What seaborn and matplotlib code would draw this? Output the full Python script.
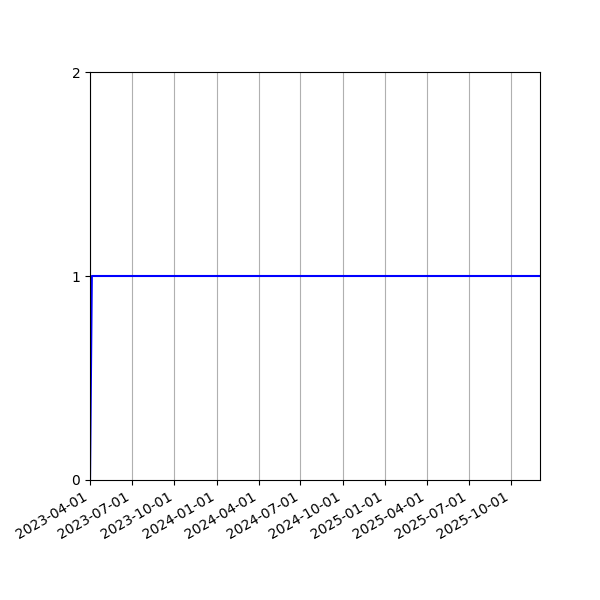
import pandas as pd
import matplotlib
matplotlib.use("Agg")
import matplotlib.pyplot as plt
import matplotlib.dates as mdates
import seaborn as sns

# datos
fechas = ["2023-04-01", "2023-04-05", "2025-12-03"]
valores = [0, 1, 1]

df = pd.DataFrame({"fecha": pd.to_datetime(fechas), "valor": valores})

fig, ax = plt.subplots(figsize=(6, 6), dpi=100)
sns.lineplot(data=df, x="fecha", y="valor", color="blue", linewidth=1.5, ax=ax)

ax.set_xlim(df["fecha"].min(), df["fecha"].max())
ax.set_ylim(0, 2)
ax.set_yticks([0, 1, 2])
ax.xaxis.set_major_locator(mdates.MonthLocator(bymonth=[1, 4, 7, 10]))
ax.xaxis.set_major_formatter(mdates.DateFormatter("%Y-%m-%d"))
ax.grid(axis="x")
ax.set_xlabel("")
ax.set_ylabel("")

fig.autofmt_xdate()
fig.subplots_adjust(left=0.15, right=0.9, top=0.88, bottom=0.2)
fig.savefig("out.png", dpi=100)
